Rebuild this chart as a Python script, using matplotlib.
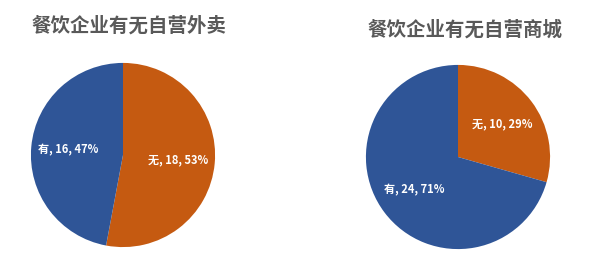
import matplotlib
matplotlib.use("Agg")
import matplotlib.pyplot as plt

plt.rcParams['font.family'] = ['Noto Sans CJK SC', 'DejaVu Sans']

categories = ['无', '有']
takeout_values = [18, 16]
mall_values = [10, 24]
titles = ['餐饮企业有无自营外卖', '餐饮企业有无自营商城']
colors = ['#C55A11', '#2F5597']

W, H = 604, 276
fig = plt.figure(figsize=(W / 100, H / 100), dpi=100)
fig.patch.set_facecolor('white')


def make_pie(cx, cy, r, values, title, tx, ty):
    ax = fig.add_axes([(cx - r) / W, (H - cy - r) / H, 2 * r / W, 2 * r / H])
    total = sum(values)
    labels_iter = iter(zip(categories, values))

    def fmt(pct):
        name, v = next(labels_iter)
        return f'{name}, {v}, {round(v / total * 100)}%'

    ax.pie(values, colors=colors, startangle=90, counterclock=False,
           radius=1, autopct=fmt, pctdistance=0.6,
           wedgeprops=dict(linewidth=0),
           textprops=dict(color='white', fontsize=8, fontweight='bold'))
    ax.set_xlim(-1.01, 1.01)
    ax.set_ylim(-1.01, 1.01)
    ax.set_aspect('equal')
    ax.axis('off')
    fig.text(tx / W, 1 - ty / H, title, ha='center', va='center',
             fontsize=14, fontweight='bold', color='#595959')


make_pie(123, 155, 93, takeout_values, titles[0], 129, 26)
make_pie(458, 157, 93, mall_values, titles[1], 465, 30)

fig.savefig('out.png', dpi=100)
